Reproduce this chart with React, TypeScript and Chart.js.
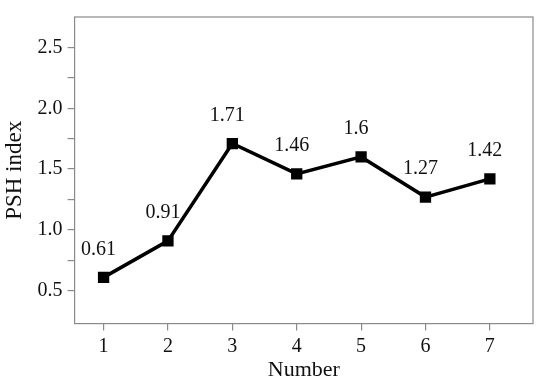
import React, { useEffect, useRef } from "react";
import { Chart, registerables } from "chart.js";

Chart.register(...registerables);

const numbers = [1, 2, 3, 4, 5, 6, 7];
const pshIndex = [0.61, 0.91, 1.71, 1.46, 1.6, 1.27, 1.42];
const valueLabels = ["0.61", "0.91", "1.71", "1.46", "1.6", "1.27", "1.42"];
const yMajorTicks = [0.5, 1.0, 1.5, 2.0, 2.5];
const yMinorTicks = [0.75, 1.25, 1.75, 2.25];
const xTicks = [1, 2, 3, 4, 5, 6, 7];

const FONT = "'Liberation Serif', 'Times New Roman', serif";
const AXIS_GRAY = "#8a8a8a";

const framePlugin = {
  id: "frameAndLabels",
  beforeDatasetsDraw(chart: any) {
    const { ctx, chartArea: a } = chart;
    ctx.save();
    ctx.strokeStyle = AXIS_GRAY;
    ctx.lineWidth = 1.2;
    ctx.strokeRect(a.left, a.top, a.right - a.left, a.bottom - a.top);
    ctx.restore();
  },
  afterDatasetsDraw(chart: any) {
    const { ctx } = chart;
    const meta = chart.getDatasetMeta(0);
    ctx.save();
    ctx.fillStyle = "#111";
    ctx.font = `20px ${FONT}`;
    ctx.textAlign = "center";
    ctx.textBaseline = "middle";
    meta.data.forEach((p: any, i: number) => {
      ctx.fillText(valueLabels[i], p.x - 5, p.y - 28);
    });
    ctx.restore();
  },
};

export default function App() {
  const canvasRef = useRef<HTMLCanvasElement | null>(null);

  useEffect(() => {
    document.body.style.margin = "0";
    const canvas = canvasRef.current;
    if (!canvas) return;
    const chart = new Chart(canvas, {
      type: "line",
      data: {
        datasets: [
          {
            data: numbers.map((n, i) => ({ x: n, y: pshIndex[i] })),
            borderColor: "#000",
            backgroundColor: "#000",
            borderWidth: 3.5,
            pointStyle: "rect",
            pointRadius: 8,
            pointHoverRadius: 8,
            pointBackgroundColor: "#000",
            pointBorderColor: "#000",
            pointBorderWidth: 0,
            tension: 0,
          },
        ],
      },
      options: {
        animation: false,
        responsive: false,
        maintainAspectRatio: false,
        layout: { padding: { top: 14, right: 17, bottom: 7, left: 1 } },
        plugins: {
          legend: { display: false },
          tooltip: { enabled: false },
        },
        scales: {
          x: {
            type: "linear",
            min: 0.55,
            max: 7.67,
            afterBuildTicks: (scale: any) => {
              scale.ticks = xTicks.map((v) => ({ value: v }));
            },
            ticks: {
              color: "#111",
              font: { family: FONT, size: 20 },
              padding: 4,
              maxRotation: 0,
              callback: (v: any) => String(v),
            },
            grid: {
              display: true,
              drawOnChartArea: false,
              drawTicks: true,
              tickLength: 7,
              color: AXIS_GRAY,
              lineWidth: 1.2,
            },
            border: { display: false },
            title: {
              display: true,
              text: "Number",
              color: "#111",
              font: { family: FONT, size: 22 },
              padding: { top: -6, bottom: 0 },
            },
          },
          y: {
            type: "linear",
            min: 0.23,
            max: 2.75,
            afterBuildTicks: (scale: any) => {
              scale.ticks = [...yMajorTicks, ...yMinorTicks]
                .sort((a, b) => a - b)
                .map((v) => ({ value: v }));
            },
            ticks: {
              color: "#111",
              font: { family: FONT, size: 20 },
              padding: 5,
              callback: (v: any) =>
                yMajorTicks.includes(v) ? Number(v).toFixed(1) : "",
            },
            grid: {
              display: true,
              drawOnChartArea: false,
              drawTicks: true,
              tickLength: 7,
              color: AXIS_GRAY,
              lineWidth: 1.2,
            },
            border: { display: false },
            title: {
              display: true,
              text: "PSH index",
              color: "#111",
              font: { family: FONT, size: 23 },
              padding: { top: 0, bottom: 4 },
            },
          },
        },
      },
      plugins: [framePlugin],
    });
    return () => chart.destroy();
  }, []);

  return (
    <div style={{ width: 550, height: 390, background: "#fff" }}>
      <canvas ref={canvasRef} width={550} height={390} style={{ display: "block" }} />
    </div>
  );
}
